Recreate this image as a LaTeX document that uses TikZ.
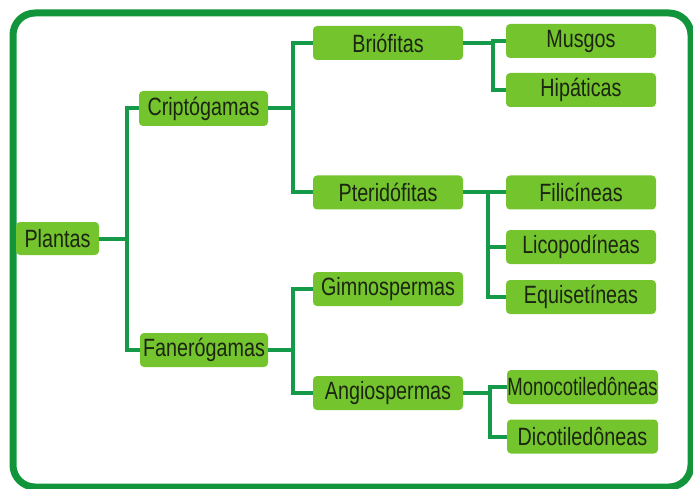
\documentclass[tikz,border=0pt]{standalone}
\usepackage{fontspec}
\setmainfont[FakeStretch=0.79]{Liberation Sans}
\newfontfamily\narrowfont[FakeStretch=0.74]{Liberation Sans}
\definecolor{framegreen}{HTML}{12953A}
\definecolor{linkgreen}{HTML}{149A48}
\definecolor{leafgreen}{HTML}{74C42E}
\definecolor{inkdark}{HTML}{1B2512}
\tikzset{
  taxon/.style={fill=leafgreen,rounded corners=4pt,inner sep=0pt,minimum width=150pt,minimum height=34pt,text=inkdark},
  link/.style={line width=4pt,linkgreen}
}
\begin{document}
\begin{tikzpicture}[x=1pt,y=-1pt,every node/.style={font=\fontsize{25}{25}\selectfont}]
\useasboundingbox (0,0) rectangle (693,489);
\draw[line width=7pt,framegreen,rounded corners=22pt] (13,13) rectangle (691,487);
% level 0 and 1
\node[taxon,minimum width=83pt,minimum height=33pt] (plantas) at (57.5,238.5) {Plantas};
\node[taxon,minimum width=129pt,minimum height=35pt] (cripto) at (203.5,108.5) {Criptógamas};
\node[taxon,minimum width=128pt] (fanero) at (204,350) {Fanerógamas};
% level 2
\node[taxon] (brio) at (388,43) {Briófitas};
\node[taxon] (pteri) at (388,192.5) {Pteridófitas};
\node[taxon] (gimno) at (388,289) {Gimnospermas};
\node[taxon] (angio) at (388,393) {Angiospermas};
% level 3
\node[taxon] (musgos) at (581,41) {Musgos};
\node[taxon] (hipat) at (581,90) {Hipáticas};
\node[taxon] (filic) at (581,192.5) {Filicíneas};
\node[taxon] (licop) at (581,247) {Licopodíneas};
\node[taxon] (equis) at (581,297) {Equisetíneas};
\node[taxon,minimum width=151pt] (mono) at (582.5,387) {\narrowfont Monocotiledôneas};
\node[taxon,minimum width=151pt] (dico) at (582.5,436.5) {Dicotiledôneas};
% junctions
\coordinate (jplantas) at (127,238.5);
\coordinate (jcripto) at (293,108.5);
\coordinate (jfanero) at (293,350);
\coordinate (jbrio) at (493,43);
\coordinate (jpteri) at (488,192.5);
\coordinate (jangio) at (490,393);
% connectors
\draw[link] (plantas.east) -- (jplantas);
\draw[link] (cripto.west) -| (jplantas) |- (fanero.west);
\draw[link] (cripto.east) -- (jcripto);
\draw[link] (brio.west) -| (jcripto) |- (pteri.west);
\draw[link] (fanero.east) -- (jfanero);
\draw[link] (gimno.west) -| (jfanero) |- (angio.west);
\draw[link] (brio.east) -- (jbrio);
\draw[link] (musgos.west) -| (jbrio) |- (hipat.west);
\draw[link] (pteri.east) -- (jpteri);
\draw[link] (filic.west) -| (jpteri) |- (equis.west);
\draw[link] (jpteri) |- (licop.west);
\draw[link] (angio.east) -- (jangio);
\draw[link] (mono.west) -| (jangio) |- (dico.west);
\end{tikzpicture}
\end{document}
